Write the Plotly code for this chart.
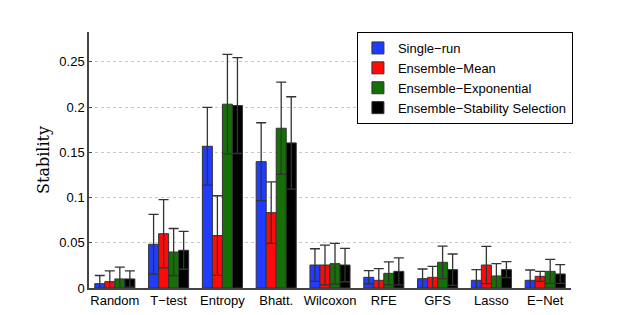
import plotly.graph_objects as go

categories = ["Random", "T\u2212test", "Entropy", "Bhatt.", "Wilcoxon", "RFE", "GFS", "Lasso", "E\u2212Net"]
series_names = ["Single\u2212run", "Ensemble\u2212Mean", "Ensemble\u2212Exponential", "Ensemble\u2212Stability Selection"]

single_run = [0.0048, 0.0483, 0.1567, 0.1397, 0.0254, 0.0118, 0.0103, 0.0085, 0.0085]
single_run_err = [0.0090, 0.0330, 0.0430, 0.0430, 0.0180, 0.0074, 0.0107, 0.0118, 0.0114]

ens_mean = [0.0070, 0.0600, 0.0580, 0.0833, 0.0254, 0.0085, 0.0118, 0.0254, 0.0129]
ens_mean_err = [0.0120, 0.0377, 0.0440, 0.0340, 0.0220, 0.0130, 0.0122, 0.0206, 0.0055]

ens_exp = [0.0100, 0.0398, 0.2032, 0.1766, 0.0269, 0.0162, 0.0284, 0.0133, 0.0184]
ens_exp_err = [0.0130, 0.0260, 0.0550, 0.0510, 0.0225, 0.0126, 0.0180, 0.0136, 0.0133]

ens_stab = [0.0100, 0.0417, 0.2017, 0.1604, 0.0254, 0.0184, 0.0203, 0.0203, 0.0155]
ens_stab_err = [0.0090, 0.0210, 0.0530, 0.0510, 0.0185, 0.0150, 0.0173, 0.0088, 0.0103]

colors = ["#1f3cff", "#ff0a0a", "#157008", "#000000"]
values = [single_run, ens_mean, ens_exp, ens_stab]
errors = [single_run_err, ens_mean_err, ens_exp_err, ens_stab_err]

y_ticks = [0, 0.05, 0.1, 0.15, 0.2, 0.25]
y_tick_text = ["0", "0.05", "0.1", "0.15", "0.2", "0.25"]

fig = go.Figure()
for name, vals, errs, col in zip(series_names, values, errors, colors):
    fig.add_trace(go.Bar(
        x=categories, y=vals, name=name,
        marker=dict(color=col, line=dict(color="#333333", width=1)),
        error_y=dict(type="data", array=errs, visible=True, color="#333333",
                     thickness=1.3, width=5),
    ))

fig.update_layout(
    width=623, height=315,
    margin=dict(l=81, r=60, t=24, b=35),
    paper_bgcolor="white", plot_bgcolor="white",
    barmode="group", bargap=0.255, bargroupgap=0,
    font=dict(family="Liberation Sans, Arial, sans-serif", size=13, color="black"),
    showlegend=True,
    legend=dict(x=1.004, y=1.0, xanchor="right", yanchor="top",
                bordercolor="black", borderwidth=1, bgcolor="white",
                font=dict(size=13), itemwidth=30, tracegroupgap=0),
    xaxis=dict(range=[-0.48, 8.48], showline=True, linecolor="#444444", linewidth=1.5,
               ticks="", showgrid=False, tickfont=dict(size=13)),
    yaxis=dict(range=[0, 0.283], tickvals=y_ticks, ticktext=y_tick_text,
               showline=True, linecolor="#444444", linewidth=1.5,
               showgrid=True, gridcolor="#c8c8c8", griddash="dot", gridwidth=1,
               ticks="inside", ticklen=3, tickcolor="#444444", zeroline=False,
               tickfont=dict(size=13),
               title=dict(text="Stability", font=dict(family="DejaVu Serif, Liberation Serif, serif", size=16),
                          standoff=6)),
)

fig.write_html("out.html")
